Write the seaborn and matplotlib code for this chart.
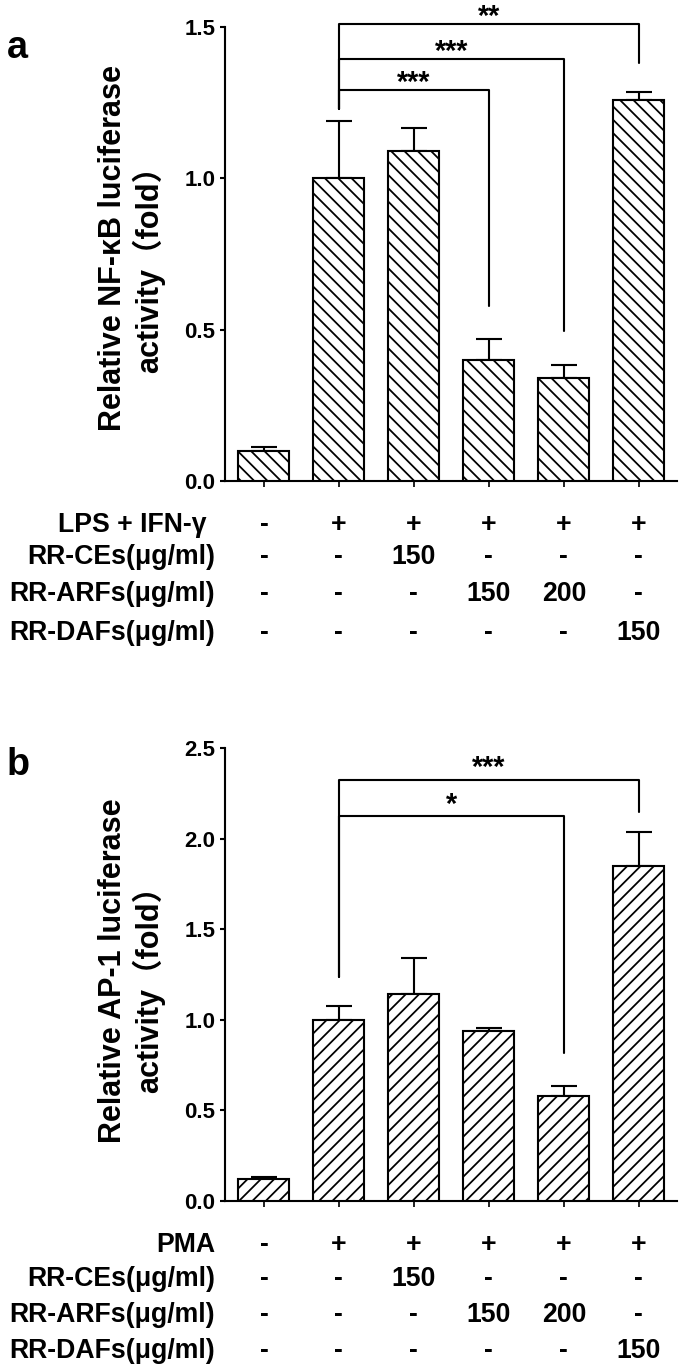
import numpy as np
import pandas as pd
import matplotlib
matplotlib.use("Agg")
import matplotlib.pyplot as plt
import seaborn as sns
from matplotlib.transforms import blended_transform_factory

# ---------------- data ----------------
groups = ["G1", "G2", "G3", "G4", "G5", "G6"]

nfkb_mean = [0.10, 1.00, 1.09, 0.40, 0.34, 1.26]
nfkb_err = [0.013, 0.19, 0.077, 0.07, 0.042, 0.024]

ap1_mean = [0.12, 1.00, 1.14, 0.94, 0.58, 1.85]
ap1_err = [0.014, 0.074, 0.20, 0.013, 0.053, 0.186]

yticks_a = [0.0, 0.5, 1.0, 1.5]
yticks_b = [0.0, 0.5, 1.0, 1.5, 2.0, 2.5]

ylabel_a = ["Relative NF-κB luciferase", "activity（fold）"]
ylabel_b = ["Relative AP-1 luciferase", "activity（fold）"]

rows_a = ["LPS + IFN-γ", "RR-CEs(μg/ml)", "RR-ARFs(μg/ml)", "RR-DAFs(μg/ml)"]
rows_b = ["PMA", "RR-CEs(μg/ml)", "RR-ARFs(μg/ml)", "RR-DAFs(μg/ml)"]
row_values = [
    ["-", "+", "+", "+", "+", "+"],
    ["-", "-", "150", "-", "-", "-"],
    ["-", "-", "-", "150", "200", "-"],
    ["-", "-", "-", "-", "-", "150"],
]

# significance brackets: (start bar, end bar, height, right-leg bottom, label)
sig_a = [(1, 3, 1.291, 0.579, "***"), (1, 4, 1.395, 0.496, "***"), (1, 5, 1.509, 1.382, "**")]
sig_a_left = 1.228
sig_b = [(1, 4, 2.123, 0.818, "*"), (1, 5, 2.324, 2.149, "***")]
sig_b_left = 1.235

# ---------------- style ----------------
W, H, DPI = 685, 1367, 80
sns.set_style("ticks")
plt.rcParams["font.family"] = ["Liberation Sans", "Noto Sans CJK SC", "DejaVu Sans"]
plt.rcParams["font.weight"] = "bold"
plt.rcParams["text.color"] = "black"
plt.rcParams["axes.labelcolor"] = "black"
plt.rcParams["xtick.color"] = "black"
plt.rcParams["ytick.color"] = "black"
plt.rcParams["axes.edgecolor"] = "black"
plt.rcParams["hatch.linewidth"] = 1.6
plt.rcParams["hatch.color"] = "black"

fig = plt.figure(figsize=(W / DPI, H / DPI), dpi=DPI)
fig.patch.set_facecolor("white")


def fy(px):
    return 1 - px / H


def fx(px):
    return px / W


LW = 1.9


def panel(rect, means, errs, hatch, yticks, ylabel, ylabel_y, rows, row_y,
          sigs, sig_left, star_off, letter, letter_y):
    ax = fig.add_axes(rect)
    df = pd.DataFrame({"group": groups, "value": means})
    sns.barplot(data=df, x="group", y="value", order=groups, color="white",
                edgecolor="black", linewidth=LW, width=0.68, errorbar=None,
                saturation=1, ax=ax, zorder=3)
    for p in ax.patches:
        p.set_hatch(hatch)
        p.set_facecolor("white")
        p.set_edgecolor("black")
    x = np.arange(len(groups))
    ax.errorbar(x, means, yerr=[np.zeros(len(errs)), errs], fmt="none",
                ecolor="black", elinewidth=LW, capsize=12, capthick=LW, zorder=2)
    ax.set_xlim(-0.52, 5.51)
    ax.set_ylim(0, yticks[-1])
    ax.set_yticks(yticks)
    ax.set_yticklabels([f"{t:.1f}" for t in yticks], fontsize=20,
                       fontweight="bold", color="black")
    ax.set_xticks(x)
    ax.set_xticklabels([])
    ax.set_xlabel("")
    ax.set_ylabel("")
    ax.tick_params(axis="y", length=4.5, width=LW, pad=4.0, color="black")
    ax.tick_params(axis="x", length=5.5, width=LW * 0.8, color="black")
    sns.despine(ax=ax)
    for s in ["left", "bottom"]:
        ax.spines[s].set_linewidth(LW)
        ax.spines[s].set_color("black")

    # brackets
    for (a, b, h, rb, lab) in sigs:
        ax.plot([a, a, b, b], [sig_left, h, h, rb], color="black", lw=LW,
                clip_on=False, zorder=4)
        ax.annotate(lab, xy=((a + b) / 2, h), xytext=(0, star_off),
                    textcoords="offset points", ha="center", va="center",
                    fontsize=26, fontweight="bold", color="black",
                    annotation_clip=False)

    # y label (two lines)
    fig.text(fx(113), fy(ylabel_y[0]), ylabel[0], rotation=90, ha="center",
             va="center", fontsize=27.5, fontweight="bold", color="black")
    fig.text(fx(148), fy(ylabel_y[1]), ylabel[1], rotation=90, ha="center",
             va="center", fontsize=27.5, fontweight="bold", color="black")

    # treatment table
    trans = blended_transform_factory(ax.transData, fig.transFigure)
    for r, (lab, yc) in enumerate(zip(rows, row_y)):
        base = fy(yc + 9.5)
        rx = 207 if r == 0 and "IFN" in lab else 215
        fig.text(fx(rx), base, lab, ha="right", va="baseline", fontsize=24,
                 fontweight="bold", color="black")
        for j, v in enumerate(row_values[r]):
            ax.text(j, base, v, transform=trans, ha="center", va="baseline",
                    fontsize=24, fontweight="bold", color="black")

    fig.text(fx(7), fy(letter_y), letter, ha="left", va="baseline",
             fontsize=34, fontweight="bold", color="black")
    return ax


panel([fx(225), fy(481), fx(677) - fx(225), fy(27) - fy(481)],
      nfkb_mean, nfkb_err, "\\\\", yticks_a, ylabel_a, (248, 262),
      rows_a, [522, 554.5, 591.5, 630], sig_a, sig_a_left, 6.3, "a", 58)

panel([fx(225), fy(1201), fx(677) - fx(225), fy(748) - fy(1201)],
      ap1_mean, ap1_err, "//", yticks_b, ylabel_b, (971, 982),
      rows_b, [1242, 1276, 1312, 1349], sig_b, sig_b_left, 10.5, "b", 775)

fig.savefig("out.png", dpi=DPI, facecolor="white")
